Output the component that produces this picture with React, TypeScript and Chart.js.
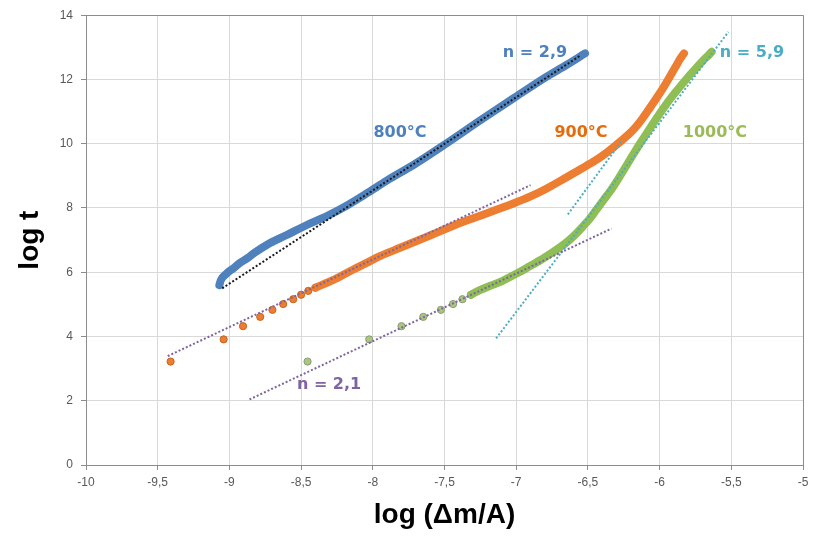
import React, { useEffect, useRef } from "react";
import { Chart, registerables } from "chart.js";

Chart.register(...registerables);

// ---- Data ----
// 800°C (dense curve)
const blueX = [-9.07, -9.06, -9.02, -8.97, -8.93, -8.87, -8.83, -8.74, -8.6, -8.46, -8.32, -8.18, -8.04, -7.9, -7.72, -7.49, -7.25, -7.02, -6.79, -6.65, -6.52];
const blueY = [5.6, 5.75, 5.96, 6.13, 6.28, 6.45, 6.59, 6.85, 7.16, 7.47, 7.75, 8.08, 8.46, 8.86, 9.33, 10.0, 10.73, 11.41, 12.08, 12.45, 12.81];

// 900°C sparse points and dense curve
const orangeDotX = [-9.41, -9.04, -8.905, -8.785, -8.7, -8.625, -8.555, -8.5, -8.45, -8.4];
const orangeDotY = [3.22, 3.91, 4.32, 4.61, 4.83, 5.01, 5.16, 5.3, 5.42, 5.52];
const orangeX = [-8.4, -8.275, -8.16, -8.04, -7.95, -7.81, -7.69, -7.58, -7.485, -7.35, -7.25, -7.11, -7.02, -6.9, -6.79, -6.67, -6.555, -6.45, -6.37, -6.27, -6.18, -6.12, -6.07, -6.02, -5.975, -5.94, -5.905, -5.88, -5.86, -5.845, -5.83];
const orangeY = [5.52, 5.76, 6.03, 6.3, 6.5, 6.76, 6.98, 7.18, 7.36, 7.6, 7.76, 7.99, 8.14, 8.36, 8.6, 8.9, 9.2, 9.47, 9.72, 10.08, 10.45, 10.78, 11.1, 11.43, 11.74, 12.0, 12.27, 12.46, 12.62, 12.72, 12.81];

// 1000°C sparse points and dense curve
const greenDotX = [-8.455, -8.025, -7.8, -7.648, -7.525, -7.44, -7.375, -7.315];
const greenDotY = [3.22, 3.91, 4.32, 4.61, 4.83, 5.01, 5.16, 5.3];
const greenX = [-7.315, -7.25, -7.18, -7.11, -7.04, -6.97, -6.9, -6.83, -6.76, -6.69, -6.63, -6.58, -6.53, -6.49, -6.44, -6.39, -6.34, -6.3, -6.23, -6.16, -6.09, -6.02, -5.95, -5.88, -5.81, -5.75, -5.695, -5.66, -5.637];
const greenY = [5.3, 5.45, 5.58, 5.7, 5.86, 6.02, 6.2, 6.38, 6.58, 6.79, 7.0, 7.21, 7.45, 7.65, 7.95, 8.25, 8.55, 8.82, 9.33, 9.84, 10.32, 10.8, 11.25, 11.65, 12.03, 12.33, 12.6, 12.75, 12.86];

// Trend lines (end points)
const trend800X = [-9.05, -6.55];
const trend800Y = [5.5, 12.75];
const trend900X = [-9.43, -6.9];
const trend900Y = [3.39, 8.71];
const trend1000aX = [-8.86, -6.335];
const trend1000aY = [2.04, 7.36];
const trend1000bX = [-7.14, -5.52];
const trend1000bY = [3.94, 13.48];
const trendSteepX = [-6.64, -6.26];
const trendSteepY = [7.8, 10.11];

// Axis ranges / ticks
const xMin = -10, xMax = -5, xStep = 0.5;
const yMin = 0, yMax = 14, yStep = 2;

// Text labels (data coordinates)
const labelTexts = ["n = 2,9", "800°C", "900°C", "1000°C", "n = 5,9", "n = 2,1"];
const labelX = [-6.869, -7.81, -6.548, -5.614, -5.356, -8.305];
const labelY = [12.82, 10.33, 10.33, 10.33, 12.82, 2.49];
const labelColors = ["#4F81BD", "#4F81BD", "#E46C0A", "#9BBB59", "#4BACC6", "#8064A2"];

const zip = (xs: number[], ys: number[]) => xs.map((x, i) => ({ x, y: ys[i] }));

const BLUE = "#4F81BD";
const ORANGE = "#ED7D31";
const GREEN = "#8FBE55";
const CYAN = "#4BACC6";
const PURPLE = "#8064A2";

const labelPlugin = {
  id: "textLabels",
  afterDatasetsDraw(chart: any) {
    const { ctx, scales } = chart;
    ctx.save();
    ctx.font = 'bold 16px "DejaVu Sans"';
    ctx.textAlign = "center";
    ctx.textBaseline = "middle";
    labelTexts.forEach((t, i) => {
      ctx.fillStyle = labelColors[i];
      ctx.fillText(t, scales.x.getPixelForValue(labelX[i]), scales.y.getPixelForValue(labelY[i]));
    });
    ctx.restore();
  },
};

export default function App() {
  const ref = useRef<HTMLCanvasElement | null>(null);
  useEffect(() => {
    if (!ref.current) return;
    const trend = (xs: number[], ys: number[], color: string) => ({
      data: zip(xs, ys),
      showLine: true,
      borderColor: color,
      borderWidth: 2,
      borderDash: [2, 2],
      pointRadius: 0,
      order: 0,
    });
    const curve = (xs: number[], ys: number[], color: string) => ({
      data: zip(xs, ys),
      showLine: true,
      borderColor: color,
      borderWidth: 8,
      borderCapStyle: "round",
      borderJoinStyle: "round",
      cubicInterpolationMode: "monotone",
      pointRadius: 0,
      order: 1,
    });
    const dots = (xs: number[], ys: number[], color: string, border: string) => ({
      data: zip(xs, ys),
      showLine: false,
      backgroundColor: color,
      borderColor: border,
      borderWidth: 1,
      pointRadius: 3.6,
      order: 1,
    });
    const chart = new Chart(ref.current, {
      type: "scatter",
      data: {
        datasets: [
          trend(trend800X, trend800Y, "#1a1a1a"),
          trend(trend900X, trend900Y, PURPLE),
          trend(trend1000aX, trend1000aY, PURPLE),
          trend(trend1000bX, trend1000bY, CYAN),
          trend(trendSteepX, trendSteepY, CYAN),
          curve(blueX, blueY, BLUE),
          curve(orangeX, orangeY, ORANGE),
          curve(greenX, greenY, GREEN),
          dots(orangeDotX, orangeDotY, ORANGE, "#C86420"),
          dots(greenDotX, greenDotY, "#A9C97A", "#8A9A78"),
        ] as any,
      },
      options: {
        animation: false,
        responsive: false,
        layout: { padding: { top: 15, right: 17, left: 0, bottom: 0 } },
        plugins: { legend: { display: false }, tooltip: { enabled: false } },
        scales: {
          x: {
            type: "linear",
            min: xMin,
            max: xMax,
            ticks: {
              stepSize: xStep,
              padding: 5,
              color: "#595959",
              font: { family: '"Liberation Sans", Arial', size: 12 },
              callback: (v: any) => String(v).replace(".", ","),
            },
            grid: {
              color: (c: any) => (c.tick && c.tick.value === xMax ? "#8C8C8C" : "#D9D9D9"),
              tickColor: "#8C8C8C",
              tickLength: 5,
            },
            border: { color: "#8C8C8C" },
            title: {
              display: true,
              text: "log (Δm/A)",
              color: "#000",
              font: { family: '"Liberation Sans", Arial', size: 28, weight: "bold" },
              padding: { top: 0, bottom: 6 },
            },
            afterFit: (s: any) => {
              s.height = 73;
            },
          },
          y: {
            type: "linear",
            min: yMin,
            max: yMax,
            ticks: {
              stepSize: yStep,
              padding: 8,
              color: "#595959",
              font: { family: '"Liberation Sans", Arial', size: 12 },
            },
            grid: {
              color: (c: any) => (c.tick && c.tick.value === yMax ? "#8C8C8C" : "#D9D9D9"),
              tickColor: "#8C8C8C",
              tickLength: 5,
            },
            border: { color: "#8C8C8C" },
            title: {
              display: true,
              text: "log t",
              color: "#000",
              font: { family: '"Liberation Sans", Arial', size: 28, weight: "bold" },
              padding: { top: 13, bottom: 0 },
            },
            afterFit: (s: any) => {
              s.width = 86;
            },
          },
        },
      } as any,
      plugins: [labelPlugin],
    });
    return () => chart.destroy();
  }, []);
  return (
    <div style={{ position: "fixed", left: 0, top: 0, width: 820, height: 538, background: "#fff" }}>
      <canvas ref={ref} width={820} height={538} style={{ display: "block" }} />
    </div>
  );
}
